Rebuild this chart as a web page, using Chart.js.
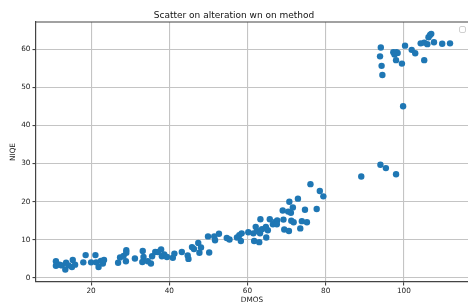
<!DOCTYPE html>
<html>
<head>
<meta charset="utf-8">
<script src="https://cdn.jsdelivr.net/npm/chart.js@4/dist/chart.umd.min.js"></script>
<style>
  html, body { margin: 0; padding: 0; background: #fff; }
  #scatterChart { display: block; }
</style>
</head>
<body>
<canvas id="scatterChart" width="468" height="302"></canvas>
<script>
  const dmos = [
    11.0, 11.0, 11.9, 12.5, 13.4, 13.6, 14.2, 15.1, 15.3, 15.9,
    18.0, 18.6, 20.0, 21.1, 21.3, 21.9, 22.5, 23.0, 23.3,
    26.9, 27.4, 28.3, 28.9, 29.0, 29.0, 31.2, 33.2, 33.4, 33.1, 34.5,
    35.3, 35.6, 36.4, 37.1, 37.9, 38.1, 38.7, 39.4, 40.9, 41.3,
    43.2, 44.7, 44.9, 45.8, 46.3, 47.4, 47.7, 48.1, 50.2, 49.9,
    51.5, 51.7, 52.7, 54.7, 55.4,
    57.3, 57.9, 58.5, 58.3, 60.2, 61.5, 61.7, 62.1, 62.4, 63.0,
    63.3, 63.2, 63.7, 64.7, 64.8, 65.2, 65.7, 66.5, 67.1, 67.6,
    67.5, 69.0, 69.2, 69.4, 70.6, 70.4, 70.7, 71.1, 71.6, 71.2,
    71.8, 72.9, 73.5, 73.9, 74.7, 75.2, 76.1, 77.7, 78.5, 79.4,
    89.1, 94.0, 95.4, 98.0,
    94.1, 93.9, 94.3, 94.5, 97.3, 97.7, 98.1, 98.4, 97.6, 98.0,
    99.5, 100.3, 102.0, 102.9, 104.3, 105.2, 105.2, 106.0, 106.3, 106.7,
    107.0, 107.7, 109.8, 111.8, 99.8
  ];
  const niqe = [
    4.4, 3.2, 3.5, 3.3, 2.2, 4.0, 3.3, 2.9, 4.7, 3.5,
    4.1, 6.0, 4.1, 6.0, 4.1, 2.9, 4.5, 3.8, 4.7,
    4.0, 5.4, 5.8, 4.4, 7.3, 6.6, 5.1, 7.1, 5.5, 4.2, 4.4,
    3.8, 5.7, 6.8, 6.8, 7.5, 5.7, 6.2, 5.5, 5.3, 6.4,
    6.8, 5.9, 5.0, 8.1, 7.6, 9.2, 6.6, 8.0, 6.7, 10.9,
    10.9, 9.9, 11.6, 10.5, 10.1,
    10.6, 11.2, 11.7, 9.7, 12.0, 11.7, 9.7, 13.4, 12.3, 9.4,
    15.4, 11.7, 12.8, 13.4, 10.6, 12.5, 15.4, 14.1, 14.7, 15.1,
    14.1, 17.7, 15.3, 12.7, 12.3, 17.4, 20.0, 17.1, 18.5, 15.0,
    14.6, 20.8, 13.0, 14.9, 17.9, 14.6, 24.6, 18.1, 22.8, 21.4,
    26.6, 29.7, 28.8, 27.2,
    60.4, 58.1, 55.6, 53.2, 59.2, 58.8, 59.2, 59.0, 58.6, 57.1,
    56.2, 60.9, 59.8, 58.9, 61.5, 61.7, 57.1, 61.3, 63.1, 63.7,
    64.0, 61.8, 61.4, 61.5, 45.0
  ];
  const xTicks = [20, 40, 60, 80, 100];
  const yTicks = [0, 10, 20, 30, 40, 50, 60];

  Chart.defaults.font.family = "'DejaVu Sans', sans-serif";
  Chart.defaults.color = "#222";

  // top spine + the empty legend box matplotlib leaves in the corner
  const frameExtras = {
    id: "frameExtras",
    afterDraw(chart) {
      const { ctx, chartArea } = chart;
      ctx.save();
      ctx.strokeStyle = "#444";
      ctx.lineWidth = 1.2;
      ctx.beginPath();
      ctx.moveTo(chartArea.left, chartArea.top);
      ctx.lineTo(chartArea.right, chartArea.top);
      ctx.stroke();
      ctx.fillStyle = "#fff";
      ctx.strokeStyle = "#d0d0d0";
      ctx.lineWidth = 1;
      ctx.beginPath();
      ctx.roundRect(459.5, 26.5, 6, 6, 1.5);
      ctx.fill();
      ctx.stroke();
      ctx.restore();
    },
  };

  const dataScatter = {
    datasets: [
      {
        label: "",
        data: dmos.map((x, i) => ({ x: x, y: niqe[i] })),
        backgroundColor: "#1f77b4",
        borderWidth: 0,
        pointRadius: 3.2,
        pointHoverRadius: 3.2,
      },
    ],
  };

  const configScatter = {
    type: "scatter",
    data: dataScatter,
    options: {
      responsive: false,
      animation: false,
      layout: { padding: 0, autoPadding: false },
      scales: {
        x: {
          type: "linear",
          min: 5.9,
          max: 116.4,
          afterBuildTicks: (s) => { s.ticks = xTicks.map((v) => ({ value: v })); },
          afterFit: (s) => { s.height = 20; },
          ticks: {
            font: { size: 7.3 },
            padding: 1,
            maxRotation: 0,
          },
          grid: {
            color: "#c4c4c4",
            lineWidth: 1.1,
            tickColor: "#444",
            tickLength: 3.5,
          },
          border: { color: "#444", width: 1.2 },
          title: {
            display: true,
            text: "DMOS",
            font: { size: 7.3 },
            padding: { top: 0, bottom: -2 },
          },
        },
        y: {
          type: "linear",
          min: -1.05,
          max: 67.1,
          afterBuildTicks: (s) => { s.ticks = yTicks.map((v) => ({ value: v })); },
          afterFit: (s) => { s.width = 36; },
          ticks: {
            font: { size: 7.3 },
            padding: 2,
          },
          grid: {
            color: "#c4c4c4",
            lineWidth: 1.1,
            tickColor: "#444",
            tickLength: 3.5,
          },
          border: { color: "#444", width: 1.2 },
          title: {
            display: true,
            text: "NIQE",
            font: { size: 7.3 },
            padding: { top: 8.6, bottom: 0 },
          },
        },
      },
      plugins: {
        legend: { display: false },
        tooltip: { enabled: false },
        title: {
          display: true,
          text: "Scatter on alteration wn on method",
          color: "#111",
          font: { size: 9, weight: "normal" },
          padding: { top: 10, bottom: 1.2 },
        },
      },
    },
    plugins: [frameExtras],
  };

  const scatterChart = new Chart(document.getElementById("scatterChart"), configScatter);
</script>
</body>
</html>
